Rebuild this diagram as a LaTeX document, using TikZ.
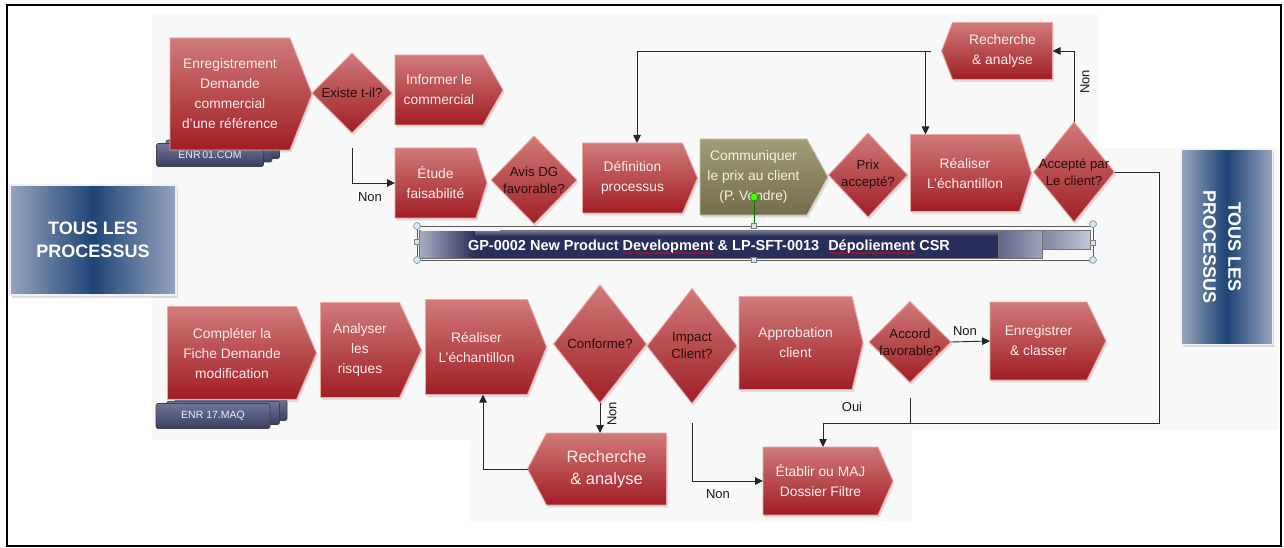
\documentclass[tikz,border=0pt]{standalone}
\usepackage{fontspec}
\setmainfont{Liberation Sans}
\usetikzlibrary{shapes.geometric,arrows.meta,shadows,decorations.pathmorphing}

\definecolor{rtop}{RGB}{208,122,122}
\definecolor{rbot}{RGB}{160,30,36}
\definecolor{redge}{RGB}{236,168,168}
\definecolor{rtext}{RGB}{250,236,236}
\definecolor{dtext}{RGB}{40,12,12}
\definecolor{otop}{RGB}{162,156,120}
\definecolor{obot}{RGB}{116,108,74}
\definecolor{oedge}{RGB}{205,198,165}
\definecolor{otext}{RGB}{245,242,228}
\definecolor{nvlight}{RGB}{150,164,190}
\definecolor{nvdark}{RGB}{30,68,118}
\definecolor{tabtop}{RGB}{112,116,152}
\definecolor{tabbot}{RGB}{58,62,100}
\definecolor{bardark}{RGB}{42,46,90}
\definecolor{barmid}{RGB}{96,100,136}
\definecolor{barlight}{RGB}{170,174,196}
\definecolor{hdl}{RGB}{205,232,244}
\definecolor{bgtex}{RGB}{248,248,248}

\newcommand\fsmain{\fontsize{13.8}{20}\selectfont}
\newcommand\fsdia{\fontsize{13.2}{17}\selectfont}

% right-pointing pentagon: name, centre, W, H, depth, shape style, text style, text
\newcommand\pentR[8]{%
  \node[rectangle, minimum width=#3pt, minimum height=#4pt] (#1) at (#2) {};
  \path[#6] (#1.north west) -- ([xshift=-#5pt]#1.north east) -- (#1.east)
     -- ([xshift=-#5pt]#1.south east) -- (#1.south west) -- cycle;
  \node[ptxt,#7] (#1-t) at ([xshift=-#5pt/2]#1.center) {#8};
}
% left-pointing pentagon
\newcommand\pentL[8]{%
  \node[rectangle, minimum width=#3pt, minimum height=#4pt] (#1) at (#2) {};
  \path[#6] (#1.west) -- ([xshift=#5pt]#1.north west) -- (#1.north east)
     -- (#1.south east) -- ([xshift=#5pt]#1.south west) -- cycle;
  \node[ptxt,#7] (#1-t) at ([xshift=#5pt/2]#1.center) {#8};
}

\begin{document}
\begin{tikzpicture}[x=1pt,y=-1pt,
  every node/.style={inner sep=0pt, outer sep=0pt},
  redsh/.style={top color=rtop, bottom color=rbot, draw=redge, line width=0.9pt,
    drop shadow={opacity=0.22, shadow xshift=1.5pt, shadow yshift=-2.5pt}},
  olsh/.style={top color=otop, bottom color=obot, draw=oedge, line width=0.9pt,
    drop shadow={opacity=0.22, shadow xshift=1.5pt, shadow yshift=-2.5pt}},
  ptxt/.style={text=rtext, align=center, font=\fsmain},
  dia/.style={diamond, redsh},
  dtxt/.style={text=dtext, align=center, font=\fsdia},
  navy/.style={left color=nvlight, right color=nvlight, middle color=nvdark, draw=white!85!nvlight, line width=1.2pt,
    drop shadow={opacity=0.25, shadow xshift=1.5pt, shadow yshift=-2.5pt}, text=white, align=center,
    font=\fontsize{18}{23}\selectfont\bfseries},
  tabbox/.style={rounded corners=2pt, draw=black!75, line width=0.6pt, top color=tabtop, bottom color=tabbot},
  conn/.style={draw=black!85, line width=0.9pt},
  arr/.style={conn, -{Triangle[length=8pt,width=7.5pt]}},
  lbl/.style={font=\fontsize{13}{15}\selectfont, text=black!90},
  bartxt/.style={font=\fontsize{14.5}{16}\selectfont\bfseries, text=white, anchor=base west},
  handle/.style={draw=black!50, fill=hdl, line width=0.5pt},
  wave/.style={draw=red, line width=0.5pt, decorate, decoration={snake, amplitude=0.7pt, segment length=3pt}}
]
\useasboundingbox (0,0) rectangle (1284,548);
\fill[white] (0,0) rectangle (1284,548);
% faint textured background
\fill[bgtex] (152,15) -- (1098,15) -- (1098,148) -- (1278,148) -- (1278,430) -- (912,430) -- (912,522)
  -- (470,522) -- (470,440) -- (152,440) -- cycle;
% outer frame
\draw[line width=1.4pt, black] (7,5) rectangle (1281,546);

% ---------- navy side boxes ----------
\node[navy, minimum width=166pt, minimum height=110pt] (tous1) at (93,240) {TOUS LES\\PROCESSUS};
\node[navy, minimum width=91pt, minimum height=195pt] (tous2) at (1227,247) {};
\node[text=white, align=center, font=\fontsize{18}{25}\selectfont\bfseries, rotate=-90] (tous2t) at (1222,247) {TOUS LES\\PROCESSUS};

% ---------- document tabs ----------
\node[tabbox, minimum width=105pt, minimum height=21pt] (tab1c) at (227,148) {};
\node[tabbox, minimum width=106pt, minimum height=22pt] (tab1b) at (219,151) {};
\node[tabbox, minimum width=107pt, minimum height=23pt, text=white!92!blue, font=\fontsize{10.5}{12}\selectfont] (tab1a) at (210,155) {ENR\,01.COM};
\node[tabbox, minimum width=112pt, minimum height=21pt] (tab2c) at (231,410) {};
\node[tabbox, minimum width=113pt, minimum height=23pt] (tab2b) at (223,413) {};
\node[tabbox, minimum width=114pt, minimum height=25pt, text=white!92!blue, font=\fontsize{10.5}{12}\selectfont] (tab2a) at (213,416) {ENR 17.MAQ};

% ---------- row 1 ----------
\pentR{enr}{241,94}{142}{112}{22}{redsh}{}{Enregistrement\\Demande\\commercial\\d'une référence}
\node[dia, minimum width=80pt, minimum height=80pt, label={[dtxt,name=ext]center:Existe t-il?}] (ex) at (352,93) {};
\pentR{inf}{449,90}{108}{70}{20}{redsh}{}{Informer le\\commercial}
\pentR{etu}{441,183}{92}{70}{11}{redsh}{}{Étude\\faisabilité}
\node[dia, minimum width=86pt, minimum height=88pt, label={[dtxt,name=avist]center:{Avis DG\\favorable?}}] (avis) at (534,180) {};
\pentR{def}{640,178}{115}{70}{15}{redsh}{}{Définition\\processus}
\pentR{com}{764,177}{128}{76}{21}{olsh}{text=otext}{Communiquer\\le prix au client\\(P. Vendre)}
\node[dia, minimum width=79pt, minimum height=84pt, label={[dtxt,name=prixt]center:{Prix\\accepté?}}] (prix) at (868,175) {};
\pentR{real1}{971,173}{121}{77}{12}{redsh}{}{Réaliser\\L'échantillon}
\node[dia, minimum width=81pt, minimum height=100pt, label={[dtxt,name=acct]center:{Accepté par\\Le client?}}] (acc) at (1074,172) {};
\pentL{rech1}{997,51}{111}{57}{11}{redsh}{}{Recherche\\\& analyse}

% ---------- process bar ----------
\shade[left color=barlight, right color=bardark] (419,230) rectangle (475,258);
\fill[bardark] (475,230) rectangle (998,258);
\shade[top color=barmid!80!white, bottom color=bardark] (475,230) rectangle (998,236);
\draw[black!55, line width=0.6pt] (419,230) rectangle (998,258);
\shade[left color=barmid, right color=barmid!60!white] (998,230) rectangle (1042,258);
\draw[black!55, line width=0.6pt] (998,230) rectangle (1042,258);
\shade[left color=barmid!80!white, right color=barlight!70!white] (1042,230) rectangle (1090,249);
\draw[black!55, line width=0.6pt] (1042,230) rectangle (1090,249);
\fill[white!90!gray] (421,229) rectangle (500,231);
\draw[black!65, line width=0.6pt] (417,226) rectangle (1093,260);
\node[bartxt] (b1) at (468,250) {GP-0002 New Product};
\node[bartxt] (b2) at ([xshift=4pt]b1.base east) {Development};
\node[bartxt] (b3) at ([xshift=4pt]b2.base east) {\& LP-SFT-0013};
\node[bartxt] (b4) at ([xshift=9pt]b3.base east) {Dépoliement};
\node[bartxt] (b5) at ([xshift=4pt]b4.base east) {CSR};
\draw[wave] ([yshift=-3pt]b2.base west) -- ([yshift=-3pt]b2.base east);
\draw[wave] ([yshift=-3pt]b4.base west) -- ([yshift=-3pt]b4.base east);
% selection handles
\draw[green!45!black, line width=0.6pt] (754,197) -- (754,226);
\filldraw[fill=green!70!yellow, draw=green!40!black, line width=0.5pt] (754,197) circle (4pt);
\filldraw[handle] (417,226) circle (3.5pt);
\filldraw[handle] (417,260) circle (3.5pt);
\filldraw[handle] (1093,224) circle (3.5pt);
\filldraw[handle] (1093,260) circle (3.5pt);
\filldraw[handle] (414.5,239.5) rectangle (419.5,244.5);
\filldraw[handle] (751.5,223.5) rectangle (756.5,228.5);
\filldraw[handle] (751.5,257.5) rectangle (756.5,262.5);
\filldraw[handle] (1090.5,240.5) rectangle (1095.5,245.5);

% ---------- row 2 ----------
\pentR{comp}{242,353}{149}{93}{20}{redsh}{}{Compléter la\\Fiche Demande\\modification}
\pentR{ana}{371,350}{101}{95}{22}{redsh}{}{Analyser\\les\\risques}
\pentR{real2}{486,347}{121}{95}{19}{redsh}{}{Réaliser\\L'échantillon}
\node[dia, minimum width=93pt, minimum height=118pt, label={[dtxt,name=conft]center:Conforme?}] (conf) at (600,344) {};
\node[dia, minimum width=90pt, minimum height=115pt, label={[dtxt,name=impt]center:{Impact\\Client?}}] (imp) at (692,346) {};
\pentR{appr}{801,343}{124}{93}{11}{redsh}{}{Approbation\\client}
\node[dia, minimum width=82pt, minimum height=81pt, label={[dtxt,name=accft]center:{Accord\\favorable?}}] (accf) at (910,342) {};
\pentR{enr2}{1048,341}{116}{78}{19}{redsh}{}{Enregistrer\\\& classer}
\pentL{rech2}{597,469}{139}{72}{19}{redsh}{font=\fontsize{16.5}{22}\selectfont}{Recherche\\\& analyse}
\pentR{etab}{828,481}{130}{68}{15}{redsh}{}{Établir ou MAJ\\Dossier Filtre}

% ---------- connectors ----------
\draw[arr] ([yshift=-15pt]ex.south) |- (etu.west);
\node[lbl] (non1) at (370,197) {Non};
\draw[arr] ([xshift=-11pt]rech1.west) -| ([xshift=-3pt]def.north);
\draw[arr] ([xshift=-16pt]rech1.west) -- ([xshift=-16pt]rech1.west |- real1.north);
\draw[arr] (acc.north) |- (rech1.east);
\node[lbl, rotate=90] (non2) at (1085,82) {Non};
\coordinate (c1) at (1159,423);
\draw[arr] (acc.east) -| (c1) -| ([xshift=-5pt]etab.north);
\draw[conn] ([yshift=-15pt]accf.south) -- (accf.south |- c1);
\node[lbl] (oui) at (852,407) {Oui};
\draw[arr] (accf.east) -- (enr2.west);
\node[lbl] (non3) at (965,331) {Non};
\draw[arr] (conf.south) -- (conf.south |- rech2.north);
\node[lbl, rotate=90] (non4) at (612,414) {Non};
\draw[arr] (rech2.west) -| ([xshift=-3pt]real2.south);
\draw[arr] ([yshift=-19pt]imp.south) |- (etab.west);
\node[lbl] (non5) at (718,494) {Non};
\end{tikzpicture}
\end{document}
